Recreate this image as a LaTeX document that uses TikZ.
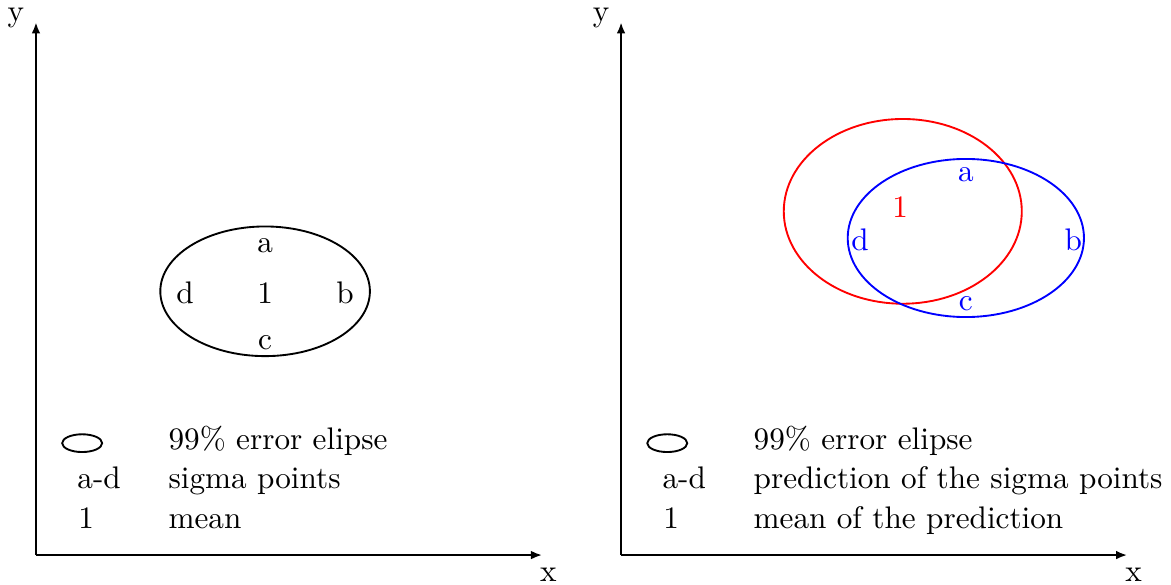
\documentclass[tikz,border=0pt]{standalone}
\usetikzlibrary{arrows.meta,positioning}
\begin{document}
\begin{tikzpicture}[>={Latex[length=3.6pt,width=2.8pt]},
  axis/.style={->,line width=0.9pt},
  ell/.style={semithick},
  leg/.style={anchor=base west,inner sep=0pt}]
\useasboundingbox (-0.405,-0.327) rectangle (12.78,6.25);
% left panel: sigma points
\coordinate (o1) at (0,0);
\coordinate (x1) at (5.70,0);
\coordinate (y1) at (0,6);
\draw[axis] (o1) -- (x1);
\draw[axis] (o1) -- (y1);
\node (xl1) at (5.77,-0.22) {x};
\node (yl1) at (-0.225,6.05) {y};
\draw[ell] (2.58,2.97) ellipse (1.18 and 0.73);
\node (m1) at (2.58,2.95) {1};
\node (a1) at (2.58,3.48) {a};
\node (c1) at (2.58,2.39) {c};
\node (d1) at (1.68,2.95) {d};
\node (b1) at (3.48,2.95) {b};
% legend
\draw[ell] (0.52,1.26) ellipse (0.225 and 0.1);
\node[leg] (le1) at (1.486,1.19) {99\% error elipse};
\node[leg] (ls1) at (0.46,0.755) {a-d};
\node[leg] (lt1) at (1.486,0.755) {sigma points};
\node[leg] (lm1) at (0.47,0.30) {1};
\node[leg] (lu1) at (1.486,0.30) {mean};
% right panel: prediction
\coordinate (o2) at (6.588,0);
\coordinate (x2) at (12.288,0);
\coordinate (y2) at (6.588,6);
\draw[axis] (o2) -- (x2);
\draw[axis] (o2) -- (y2);
\node (xl2) at (12.358,-0.22) {x};
\node (yl2) at (6.363,6.05) {y};
\draw[ell,red] (9.76,3.87) ellipse (1.34 and 1.04);
\draw[ell,blue] (10.47,3.57) ellipse (1.33 and 0.89);
\node[red] (m2) at (9.73,3.92) {1};
\node[blue] (a2) at (10.47,4.28) {a};
\node[blue] (c2) at (10.47,2.83) {c};
\node[blue] (d2) at (9.28,3.55) {d};
\node[blue] (b2) at (11.68,3.55) {b};
% legend
\draw[ell] (7.108,1.26) ellipse (0.225 and 0.1);
\node[leg] (le2) at (8.074,1.19) {99\% error elipse};
\node[leg] (ls2) at (7.048,0.755) {a-d};
\node[leg] (lt2) at (8.074,0.755) {prediction of the sigma points};
\node[leg] (lm2) at (7.058,0.30) {1};
\node[leg] (lu2) at (8.074,0.30) {mean of the prediction};
\end{tikzpicture}
\end{document}
